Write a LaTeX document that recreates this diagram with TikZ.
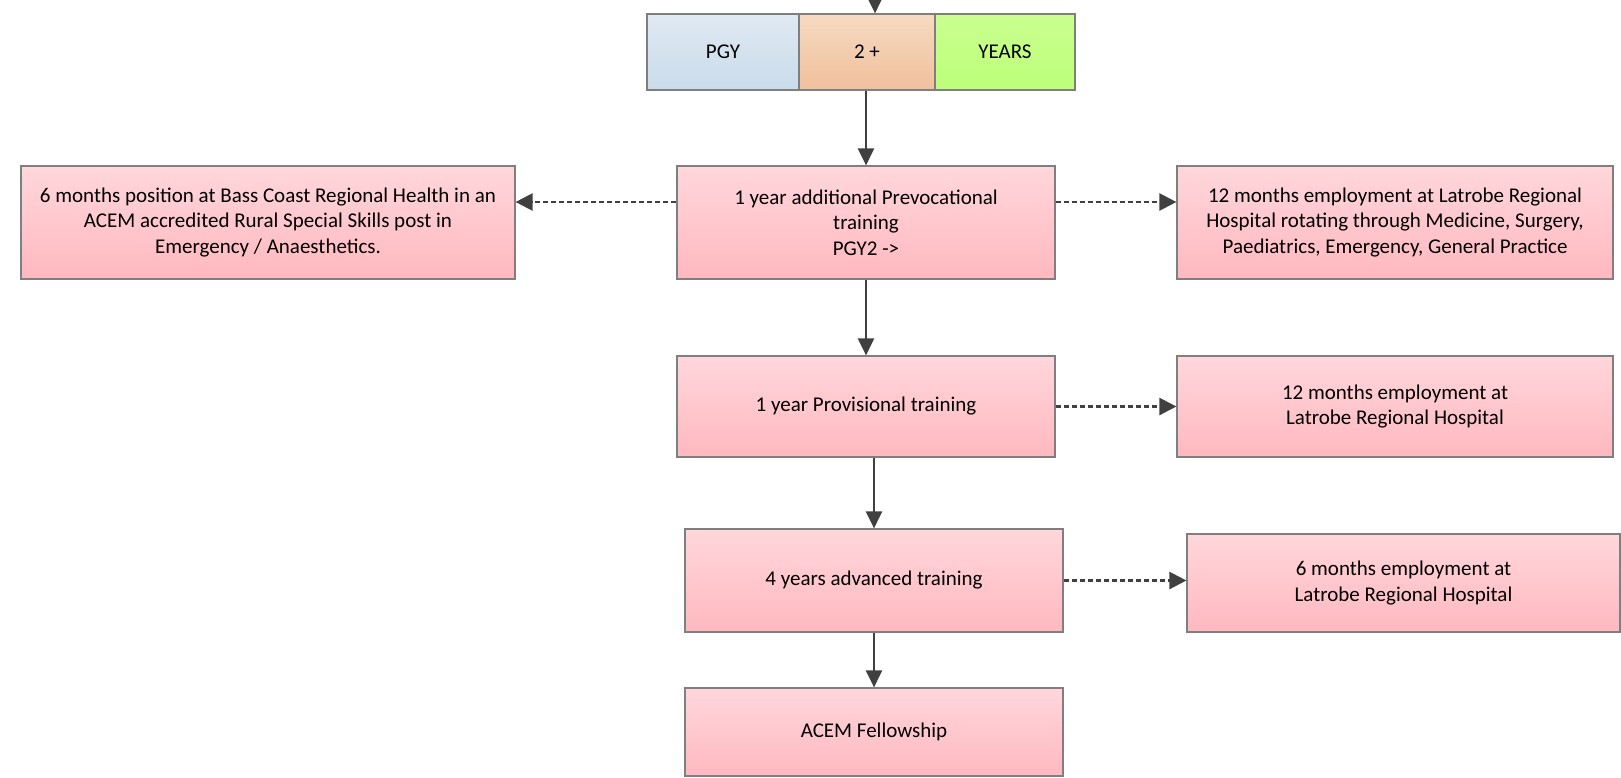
\documentclass[tikz,border=0pt]{standalone}
\usepackage{fontspec}
\setmainfont{Carlito}
\usepackage{xcolor}
\usepackage{tikz}
\usetikzlibrary{positioning,calc,arrows.meta}

\definecolor{boxline}{HTML}{7F7F7F}
\definecolor{arrowgray}{HTML}{404040}
\definecolor{pinktop}{HTML}{FFD7DC}
\definecolor{pinkbot}{HTML}{FFB8BF}
\definecolor{bluetop}{HTML}{E0E9F3}
\definecolor{bluebot}{HTML}{C9DBEA}
\definecolor{peachtop}{HTML}{F6DAC2}
\definecolor{peachbot}{HTML}{F0C09C}
\definecolor{limetop}{HTML}{CAFF90}
\definecolor{limebot}{HTML}{BCFF78}

\begin{document}
\begin{tikzpicture}[x=1pt, y=-1pt,
    every node/.style={font=\fontsize{21}{25.6}\selectfont, align=center, inner sep=0pt},
    stagebox/.style={draw=boxline, line width=1.2pt, top color=pinktop, bottom color=pinkbot},
    pgybox/.style={draw=boxline, line width=1.2pt, minimum height=76pt},
    flow/.style={draw=arrowgray, line width=2.4pt, -{Triangle[length=17pt,width=16pt]}},
    side/.style={draw=arrowgray, line width=2.4pt, dash pattern=on 5pt off 3pt, -{Triangle[length=17pt,width=17pt]}}]
    \useasboundingbox (0,0) rectangle (1621,777);

    % PGY strip
    \node (pgy) at (723,52) [pgybox, minimum width=152pt, top color=bluetop, bottom color=bluebot] {PGY};
    \node (two) at (867,52) [pgybox, minimum width=136pt, top color=peachtop, bottom color=peachbot] {2 +};
    \node (years) at (1005,52) [pgybox, minimum width=140pt, top color=limetop, bottom color=limebot] {YEARS};
    \coordinate (entry) at (875,0);

    % Main pathway
    \node (prevoc) at (866,222.5) [stagebox, minimum width=378pt, minimum height=113pt] {1 year additional Prevocational\\training\\PGY2 ->};
    \node (prov) at (866,406.5) [stagebox, minimum width=378pt, minimum height=101pt] {1 year Provisional training};
    \node (adv) at (874,580.5) [stagebox, minimum width=378pt, minimum height=103pt] {4 years advanced training};
    \node (fellow) at (874,732) [stagebox, minimum width=378pt, minimum height=88pt] {ACEM Fellowship};

    % Placements
    \node (bass) at (268,222.5) [stagebox, minimum width=494pt, minimum height=113pt] {6 months position at Bass Coast Regional Health in an\\ACEM accredited Rural Special Skills post in\\Emergency / Anaesthetics.};
    \node (lrhA) at (1395,222.5) [stagebox, minimum width=436pt, minimum height=113pt] {12 months employment at Latrobe Regional\\Hospital rotating through Medicine, Surgery,\\Paediatrics, Emergency, General Practice};
    \node (lrhB) at (1395,406.5) [stagebox, minimum width=436pt, minimum height=101pt] {12 months employment at\\Latrobe Regional Hospital};
    \node (lrhC) at (1403.5,583) [stagebox, minimum width=433pt, minimum height=98pt] {6 months employment at\\Latrobe Regional Hospital};

    % Solid arrows
    \draw[flow] (entry) -- (entry |- two.north);
    \draw[flow] (prevoc.north |- two.south) -- (prevoc.north);
    \draw[flow] (prevoc.south) -- (prov.north);
    \draw[flow] (adv.north |- prov.south) -- (adv.north);
    \draw[flow] (adv.south) -- (fellow.north);

    % Dashed arrows
    \coordinate (rowA) at (0,202);
    \draw[side] (prevoc.west |- rowA) -- (bass.east |- rowA);
    \draw[side] (prevoc.east |- rowA) -- (lrhA.west |- rowA);
    \draw[side] (prov.east) -- (lrhB.west |- prov.east);
    \draw[side] (adv.east) -- (lrhC.west |- adv.east);
\end{tikzpicture}
\end{document}
